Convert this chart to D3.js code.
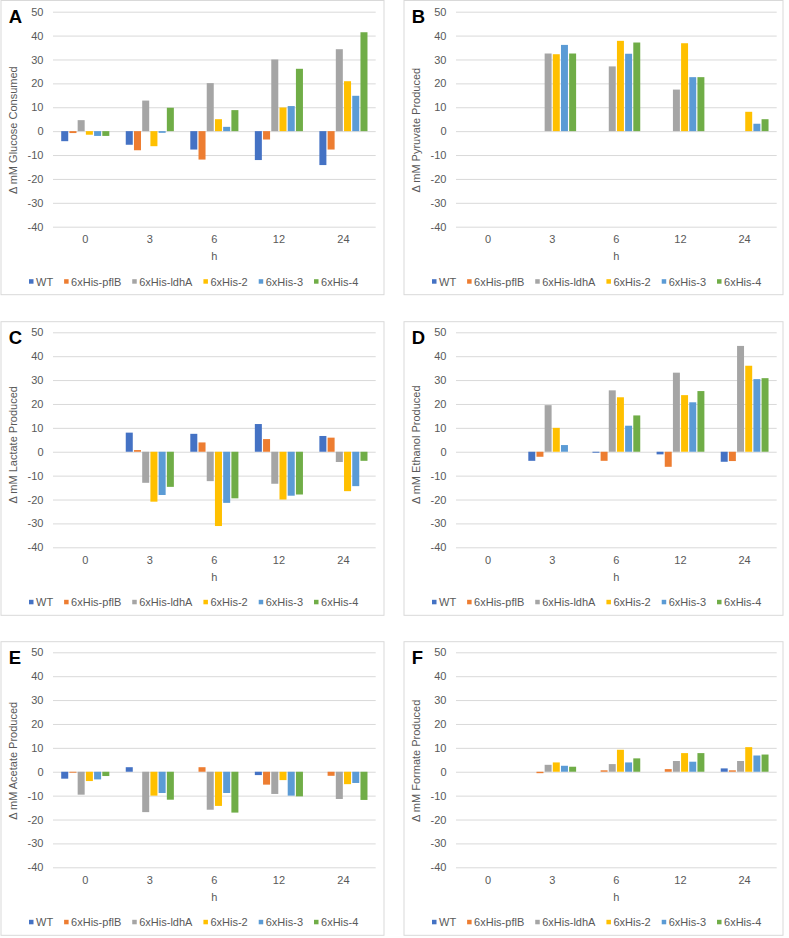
<!DOCTYPE html>
<html>
<head>
<meta charset="utf-8">
<script src="https://cdn.jsdelivr.net/npm/d3@7"></script>
<style>
  html, body { margin: 0; padding: 0; background: #ffffff; }
  svg { display: block; font-family: "Liberation Sans", Arial, sans-serif; }
</style>
</head>
<body>
<svg id="chart" width="789" height="938"></svg>
<script>
// ---------------- DATA ----------------
const categories = ["0", "3", "6", "12", "24"];
const seriesNames = ["WT", "6xHis-pflB", "6xHis-ldhA", "6xHis-2", "6xHis-3", "6xHis-4"];
const seriesColors = ["#4472C4", "#ED7D31", "#A5A5A5", "#FFC000", "#5B9BD5", "#70AD47"];
const yTickValues = [50, 40, 30, 20, 10, 0, -10, -20, -30, -40];
const yTickLabels = ["50", "40", "30", "20", "10", "0", "-10", "-20", "-30", "-40"];
const xAxisTitle = "h";

// rows = series (WT, pflB, ldhA, His-2, His-3, His-4); columns = categories (0,3,6,12,24 h)
const glucoseConsumed = [
  [-4.2, -5.7, -7.7, -12.1, -14.2],
  [-0.8, -8.0, -11.9, -3.5, -7.7],
  [4.6, 12.8, 20.1, 30.0, 34.3],
  [-1.5, -6.3, 5.0, 9.9, 20.9],
  [-2.0, -0.7, 1.8, 10.5, 14.8],
  [-2.0, 9.8, 8.8, 26.1, 41.4]
];
const pyruvateProduced = [
  [0, 0, 0, 0, 0],
  [0, 0, 0, 0, 0],
  [0, 32.5, 27.1, 17.4, 0],
  [0, 32.2, 37.8, 36.8, 8.1],
  [0, 36.1, 32.4, 22.6, 3.1],
  [0, 32.5, 37.1, 22.6, 5.0]
];
const lactateProduced = [
  [0, 8.0, 7.5, 11.6, 6.6],
  [0, 0.7, 3.9, 5.3, 5.9],
  [0, -13.0, -12.3, -13.4, -4.3],
  [0, -20.9, -31.1, -20.0, -16.5],
  [0, -18.1, -21.4, -18.4, -14.4],
  [0, -14.7, -19.5, -17.9, -3.8]
];
const ethanolProduced = [
  [0, -3.8, -0.4, -1.1, -4.2],
  [0, -2.1, -3.8, -6.3, -3.9],
  [0, 19.5, 25.7, 33.1, 44.3],
  [0, 10.0, 22.8, 23.7, 36.0],
  [0, 2.8, 10.9, 20.7, 30.4],
  [0, 0, 15.2, 25.4, 30.8]
];
const acetateProduced = [
  [-2.9, 1.9, 0, -1.4, 0],
  [-0.4, 0, 1.9, -5.4, -1.7],
  [-9.6, -16.9, -15.9, -9.3, -11.4],
  [-3.9, -10.0, -14.3, -3.5, -5.2],
  [-3.2, -8.9, -8.9, -10.0, -4.7],
  [-1.8, -11.7, -17.1, -10.3, -11.8]
];
const formateProduced = [
  [0, 0, 0, 0, 1.4],
  [0, -0.6, 0.6, 1.1, 0.6],
  [0, 2.9, 3.2, 4.5, 4.5],
  [0, 3.9, 9.2, 7.8, 10.3],
  [0, 2.5, 3.9, 4.2, 6.8],
  [0, 2.1, 5.6, 7.8, 7.2]
];

const panelLetters = ["A", "B", "C", "D", "E", "F"];
const panelTitles = [
  "\u0394 mM Glucose Consumed",
  "\u0394 mM Pyruvate Produced",
  "\u0394 mM Lactate Produced",
  "\u0394 mM Ethanol Produced",
  "\u0394 mM Acetate Produced",
  "\u0394 mM Formate Produced"
];
const panelData = [glucoseConsumed, pyruvateProduced, lactateProduced, ethanolProduced, acetateProduced, formateProduced];

// ---------------- LAYOUT ----------------
const colLayout = [
  { boxL: 1, boxR: 384, plotL: 53, plotR: 375.7 },
  { boxL: 404, boxR: 783, plotL: 456, plotR: 776.7 }
];
const rowLayout = [
  { boxT: 0.5, top: 11.7, titleShift: 11 },
  { boxT: 321.7, top: 332.3, titleShift: 5 },
  { boxT: 641.7, top: 652.3, titleShift: 1 }
];
const plotH = 215;
const textColor = "#595959";
const gridColor = "#D9D9D9";

const svg = d3.select("#chart");

panelData.forEach((data, p) => {
  const col = colLayout[p % 2];
  const row = rowLayout[Math.floor(p / 2)];
  const plotB = row.top + plotH;
  const g = svg.append("g");

  // outer border
  g.append("rect")
    .attr("x", col.boxL).attr("y", row.boxT)
    .attr("width", col.boxR - col.boxL)
    .attr("height", plotB + 68 - row.boxT)
    .attr("fill", "none").attr("stroke", gridColor).attr("stroke-width", 1);

  const y = d3.scaleLinear().domain([-40, 50]).range([plotB, row.top]);
  const x0 = d3.scaleBand().domain(categories).range([col.plotL, col.plotR]).padding(0);
  const bw = x0.bandwidth();
  const groupW = bw * 0.764;
  const x1 = d3.scaleBand().domain(seriesNames)
    .range([(bw - groupW) / 2, (bw + groupW) / 2]).padding(0);

  // gridlines + tick labels via axis
  const yAxis = d3.axisLeft(y).tickValues(yTickValues)
    .tickSize(-(col.plotR - col.plotL))
    .tickFormat((d, i) => yTickLabels[i]);
  const ya = g.append("g").attr("transform", `translate(${col.plotL},0)`).call(yAxis);
  ya.select(".domain").remove();
  ya.selectAll(".tick line").attr("stroke", gridColor).attr("stroke-width", 1);
  ya.selectAll(".tick text")
    .attr("x", -9.5).attr("fill", textColor)
    .style("font-size", "11px").style("font-family", "'Liberation Sans', Arial, sans-serif");

  // bars
  const bars = g.append("g");
  data.forEach((vals, s) => {
    bars.selectAll(null)
      .data(vals.map((v, c) => ({ v, c: categories[c] })))
      .enter().append("rect")
      .attr("x", d => x0(d.c) + x1(seriesNames[s]) + 0.6)
      .attr("width", x1.bandwidth() - 1.2)
      .attr("y", d => Math.min(y(d.v), y(0)))
      .attr("height", d => Math.abs(y(d.v) - y(0)))
      .attr("fill", seriesColors[s]);
  });

  // category axis labels
  const xAxis = d3.axisBottom(x0).tickSize(0).tickPadding(0);
  const xa = g.append("g").attr("transform", `translate(0,${plotB})`).call(xAxis);
  xa.select(".domain").remove();
  xa.selectAll(".tick text")
    .attr("y", 16.6).attr("dy", null).attr("fill", textColor)
    .style("font-size", "11px").style("font-family", "'Liberation Sans', Arial, sans-serif");

  // x axis title
  g.append("text")
    .attr("x", (col.plotL + col.plotR) / 2)
    .attr("y", plotB + 33.3)
    .attr("text-anchor", "middle")
    .attr("fill", textColor).style("font-size", "11px")
    .text(xAxisTitle);

  // y axis title
  const tcx = col.plotL - 36.5;
  const tcy = (row.top + plotB) / 2 + row.titleShift;
  g.append("text")
    .attr("transform", `translate(${tcx},${tcy}) rotate(-90)`)
    .attr("text-anchor", "middle")
    .attr("fill", textColor).style("font-size", "11px")
    .text(panelTitles[p]);

  // panel letter
  g.append("text")
    .attr("x", col.boxL + 7.8)
    .attr("y", row.top + 11.3)
    .attr("fill", "#000").style("font-size", "18.5px").style("font-weight", "bold")
    .style("font-family", "'Liberation Sans', Arial, sans-serif")
    .text(panelLetters[p]);

  // legend
  const leg = g.append("g");
  let lx = col.plotL - 24;
  const ly = plotB + 55;
  seriesNames.forEach((name, s) => {
    leg.append("rect")
      .attr("x", lx).attr("y", ly - 2.5)
      .attr("width", 4.5).attr("height", 4.5)
      .attr("fill", seriesColors[s]);
    const t = leg.append("text")
      .attr("x", lx + 7).attr("y", ly + 3.8)
      .attr("fill", textColor).style("font-size", "11px")
      .text(name);
    lx = lx + 7 + t.node().getComputedTextLength() + 11;
  });
});
</script>
</body>
</html>
